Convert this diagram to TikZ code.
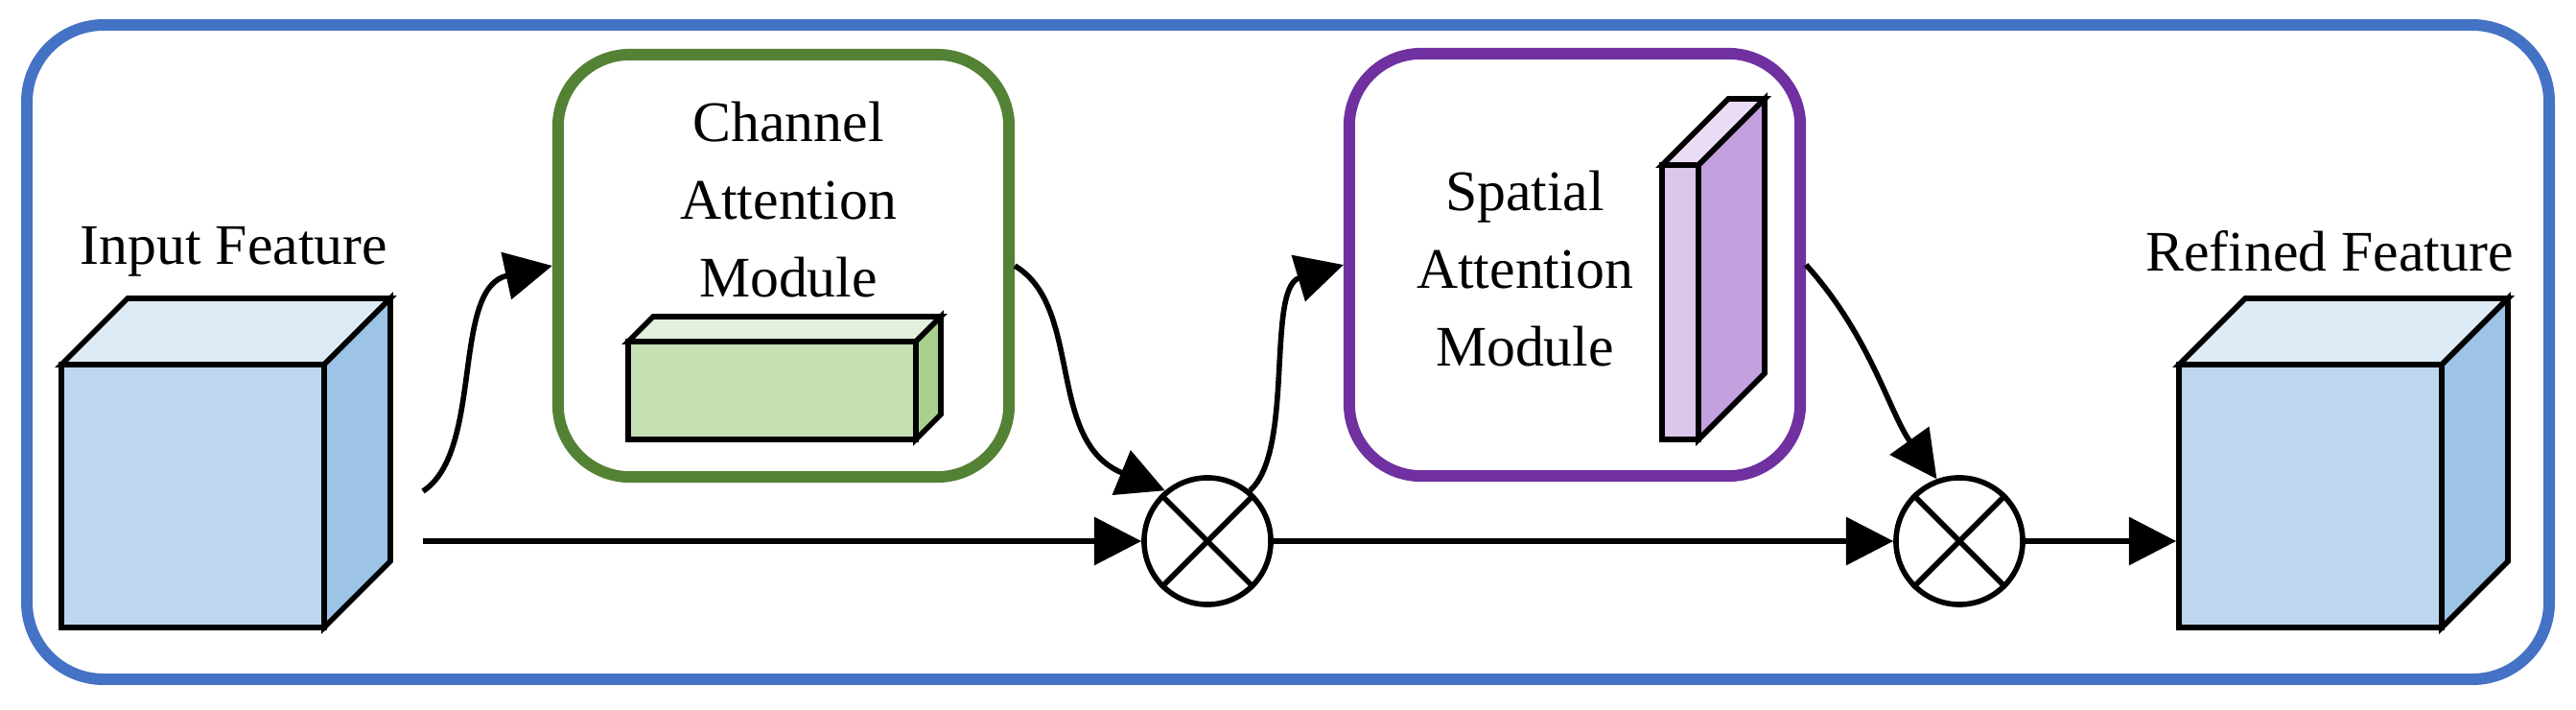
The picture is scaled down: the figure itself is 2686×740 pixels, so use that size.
\documentclass[tikz,border=0pt]{standalone}
\usepackage{fontspec}
\setmainfont{Liberation Serif}
\usetikzlibrary{arrows.meta}
\definecolor{frameblue}{HTML}{4472C4}
\definecolor{camgreen}{HTML}{548235}
\definecolor{sampurple}{HTML}{7030A0}
\definecolor{cubefront}{HTML}{BDD7EE}
\definecolor{cubetop}{HTML}{DDEBF7}
\definecolor{cubeside}{HTML}{9DC3E6}
\definecolor{grnfront}{HTML}{C6E0B4}
\definecolor{grntop}{HTML}{E2EFDA}
\definecolor{grnside}{HTML}{A9D08E}
\definecolor{purfront}{HTML}{DCC6EC}
\definecolor{purtop}{HTML}{EADCF4}
\definecolor{purside}{HTML}{C3A0DE}
% cuboid: x, y (front top-left), width, height, depth, front, top, side
\newcommand{\drawcuboid}[8]{
    \draw[fill=#7] (#1,#2) -- ++(#5,-#5) -- ++(#3,0) -- ++(-#5,#5) -- cycle;
    \draw[fill=#8] (#1+#3,#2) -- ++(#5,-#5) -- ++(0,#4) -- ++(-#5,#5) -- cycle;
    \draw[fill=#6] (#1,#2) rectangle ++(#3,#4);
}
\tikzset{
    label/.style={font=\fontsize{17}{21}\selectfont, align=center},
    module/.style={rounded corners=0.75cm, line width=3.4pt, minimum width=4.7cm, minimum height=4.4cm},
    mult/.style={circle, draw, line width=1.6pt, minimum size=1.32cm, inner sep=0pt},
    flow/.style={line width=1.6pt, -{Triangle[length=14pt,width=14pt]}},
}
\begin{document}
\begin{tikzpicture}[x=0.01cm, y=-0.01cm, line width=1.6pt]
\useasboundingbox (0,0) rectangle (2686,740);
% Frame
    \draw[frameblue, line width=3.4pt, rounded corners=0.8cm] (28,26) rectangle (2658,708);
% Modules
    \node[module, draw=camgreen] (cam) at (817,277) {};
    \node[module, draw=sampurple] (sam) at (1642,276) {};
    \node[label] at (822,208) {Channel\\[2pt]Attention\\[2pt]Module};
    \node[label] at (1590,280) {Spatial\\[2pt]Attention\\[2pt]Module};
% Feature blocks
    \drawcuboid{64}{380}{274}{274}{69}{cubefront}{cubetop}{cubeside}
    \drawcuboid{2272}{380}{274}{274}{69}{cubefront}{cubetop}{cubeside}
    \drawcuboid{655}{356}{300}{102}{26}{grnfront}{grntop}{grnside}
    \drawcuboid{1733}{172}{38}{286}{69}{purfront}{purtop}{purside}
    \node[inner sep=0, minimum width=2.74cm, minimum height=2.74cm] (infeat) at (201,517) {};
    \node[inner sep=0, minimum width=2.74cm, minimum height=2.74cm] (outfeat) at (2409,517) {};
    \node[label] at (244,262) {Input Feature};
    \node[label] at (2429,262) {Refined Feature};
% Multiplications
    \node[mult] (m1) at (1259,564) {};
    \node[mult] (m2) at (2043,564) {};
    \draw (m1.45) -- (m1.225) (m1.135) -- (m1.315);
    \draw (m2.45) -- (m2.225) (m2.135) -- (m2.315);
% Flow
    \coordinate (split) at (441,564);
    \coordinate (up) at (441,512);
    \coordinate (entry) at (outfeat.west |- m2);
    \draw[flow] (split) -- (m1.west);
    \draw[flow] (up) .. controls (505,470) and (470,300) .. (cam.west);
    \draw[flow] (cam.east) .. controls (1130,320) and (1090,460) .. (m1.130);
    \draw[flow] (m1.50) .. controls (1350,470) and (1320,300) .. (sam.west);
    \draw[flow] (sam.east) .. controls (1950,350) and (1970,430) .. (m2.110);
    \draw[flow] (m1.east) -- (m2.west);
    \draw[flow] (m2.east) -- (entry);
\end{tikzpicture}
\end{document}
